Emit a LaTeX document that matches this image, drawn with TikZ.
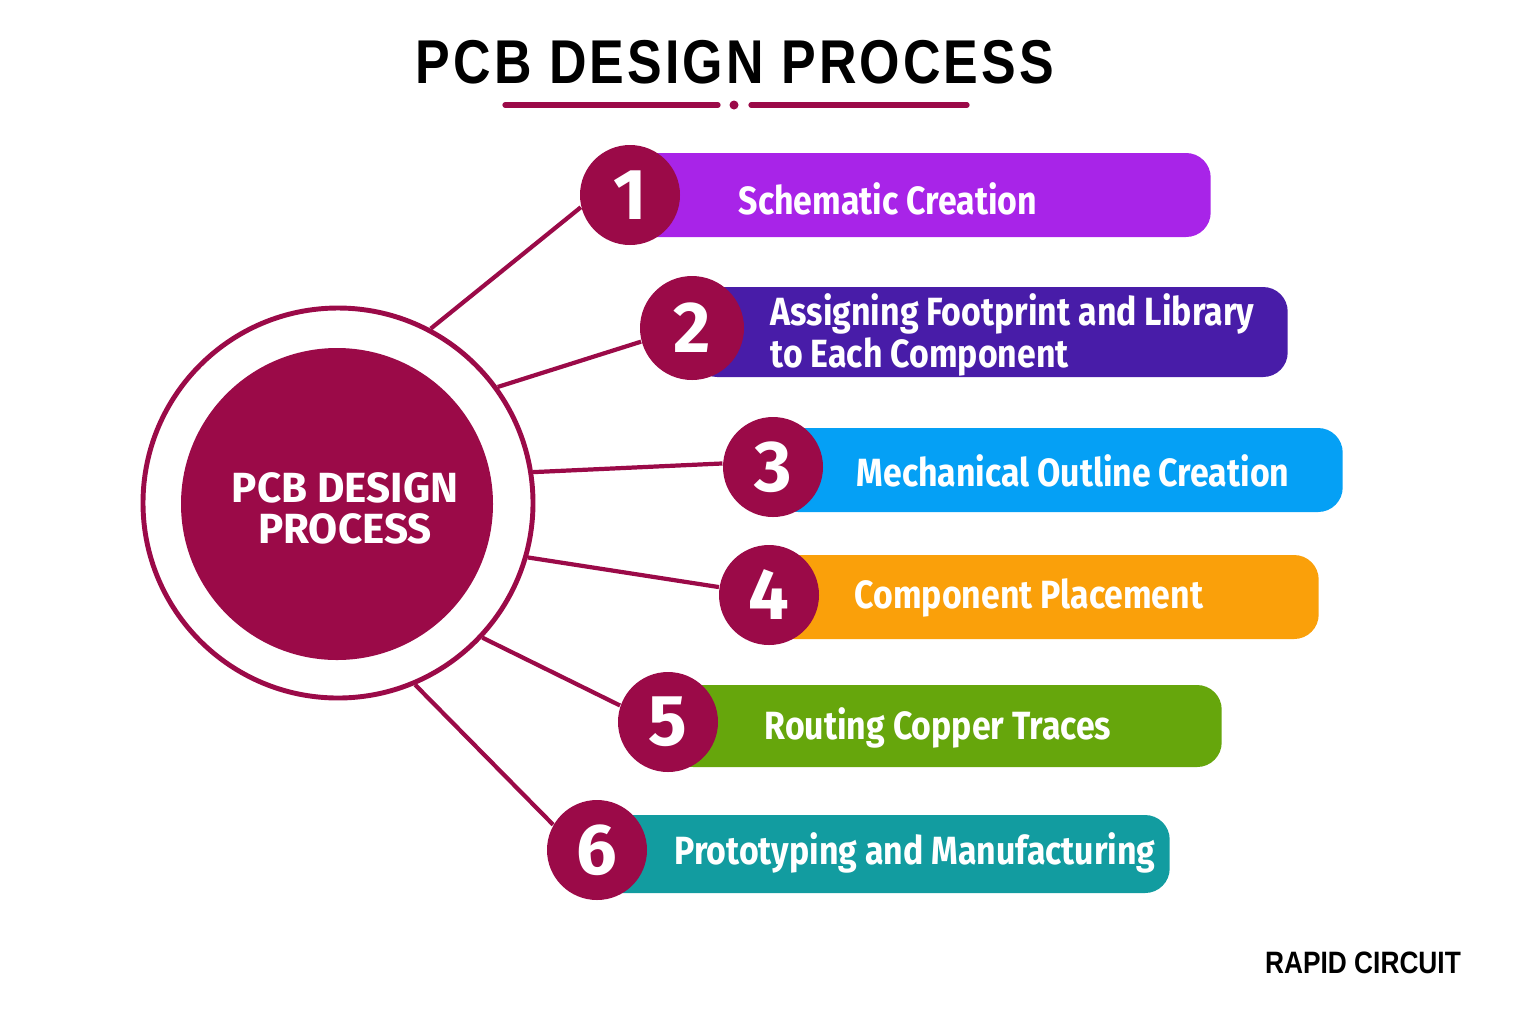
\documentclass[tikz,border=0pt]{standalone}
\usepackage{fontspec}
\setmainfont{Fira Sans}
\newfontfamily\barfont[FakeStretch=0.86]{Fira Sans}
\newfontfamily\headfont[FakeStretch=0.84,LetterSpace=5]{Liberation Sans}
\newfontfamily\brandfont[FakeStretch=0.85]{Liberation Sans}
\usetikzlibrary{positioning}
\definecolor{HubRed}{RGB}{155,10,72}
\definecolor{StepOne}{RGB}{168,36,232}
\definecolor{StepTwo}{RGB}{72,28,168}
\definecolor{StepThree}{RGB}{5,160,245}
\definecolor{StepFour}{RGB}{250,160,10}
\definecolor{StepFive}{RGB}{102,166,12}
\definecolor{StepSix}{RGB}{18,156,160}

\begin{document}
\begin{tikzpicture}[
        bar/.style={rectangle,rounded corners=7pt,anchor=west,minimum height=0.84cm},
        badge/.style={circle,fill=HubRed,text=white,minimum size=1.0cm,inner sep=0pt,
                      font=\bfseries\fontsize{20.5}{20.5}\selectfont},
        label/.style={anchor=west,text=white,align=left,inner sep=0pt,
                      font=\barfont\bfseries\fontsize{11.2}{10.4}\selectfont},
        link/.style={draw=HubRed,line width=1.2pt},
        rule/.style={draw=HubRed,line width=1.5pt,line cap=round}
      ]
        \useasboundingbox (0,0) rectangle (15.36,-10.24);
        \node[font=\headfont\bfseries\fontsize{17.6}{17.6}\selectfont] (title) at (7.35,-0.62)
          {PCB DESIGN PROCESS};
        \coordinate (ruleA) at (5.05,-1.05);
        \coordinate (ruleB) at (7.18,-1.05);
        \coordinate (ruleC) at (7.51,-1.05);
        \coordinate (ruleD) at (9.67,-1.05);
        \draw[rule] (ruleA) -- (ruleB);
        \draw[rule] (ruleC) -- (ruleD);
        \node[circle,fill=HubRed,minimum size=0.09cm,inner sep=0pt] (ruledot) at (7.34,-1.05) {};
        \node[circle,draw=HubRed,line width=1.4pt,fill=white,minimum size=3.9cm] (hub) at (3.38,-5.03) {};
        \node[circle,fill=HubRed,minimum size=3.12cm] (core) at (3.37,-5.04) {};
        \node[text=white,align=center,font=\bfseries\fontsize{12}{11.7}\selectfont]
          (hubtext) at (3.45,-5.08) {PCB DESIGN\\PROCESS};
        \node[bar,fill=StepOne,minimum width=5.80cm] (bar1) at (6.30,-1.95) {};
        \node[bar,fill=StepTwo,minimum width=5.95cm,minimum height=0.90cm] (bar2) at (6.92,-3.32) {};
        \node[bar,fill=StepThree,minimum width=5.69cm] (bar3) at (7.73,-4.70) {};
        \node[bar,fill=StepFour,minimum width=5.49cm] (bar4) at (7.69,-5.97) {};
        \node[bar,fill=StepFive,minimum width=5.53cm,minimum height=0.82cm] (bar5) at (6.68,-7.26) {};
        \node[bar,fill=StepSix,minimum width=5.72cm,minimum height=0.78cm] (bar6) at (5.97,-8.54) {};
        \node[badge] (s1) at (6.30,-1.95) {1};
        \node[badge,minimum size=1.04cm] (s2) at (6.92,-3.28) {2};
        \node[badge] (s3) at (7.73,-4.67) {3};
        \node[badge] (s4) at (7.69,-5.95) {4};
        \node[badge] (s5) at (6.68,-7.22) {5};
        \node[badge] (s6) at (5.97,-8.50) {6};
        \draw[link] (hub.62) -- (s1.194);
        \draw[link] (hub.36) -- (s2.195);
        \draw[link] (hub.9) -- (s3.176);
        \draw[link] (hub.-16) -- (s4.171);
        \draw[link] (hub.-43) -- (s5.161);
        \draw[link] (hub.-67) -- (s6.150);
        \node[label] (t1) at (7.38,-1.99) {Schematic Creation};
        \node[label] (t2) at (7.70,-3.35) {Assigning Footprint and Library\\to Each Component};
        \node[label] (t3) at (8.56,-4.71) {Mechanical Outline Creation};
        \node[label] (t4) at (8.54,-5.98) {Component Placement};
        \node[label] (t5) at (7.64,-7.28) {Routing Copper Traces};
        \node[label] (t6) at (6.74,-8.53) {Prototyping and Manufacturing};
        \node[font=\brandfont\bfseries\fontsize{8.8}{8.8}\selectfont] (brand) at (13.63,-9.63)
          {RAPID CIRCUIT};
      \end{tikzpicture}
\end{document}
